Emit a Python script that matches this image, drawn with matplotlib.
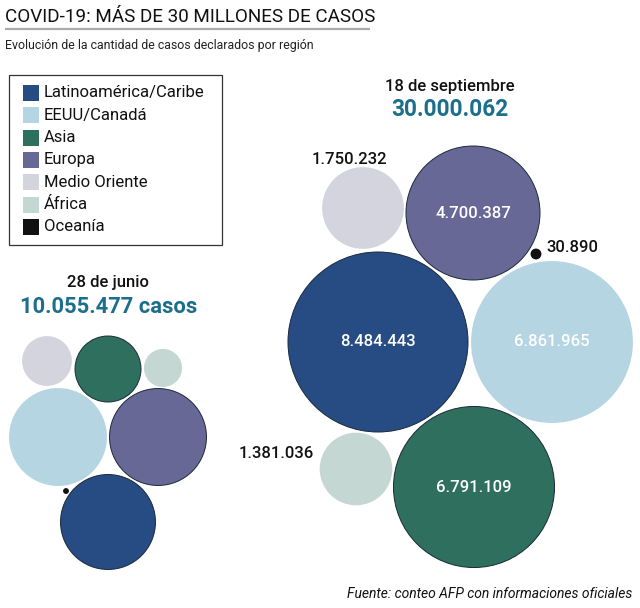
import matplotlib
matplotlib.use("Agg")
import numpy as np
import matplotlib.pyplot as plt
from matplotlib.patches import Circle, Rectangle

# Data (cases, millions)
regions = ["Latinoamérica/Caribe", "EEUU/Canadá", "Asia", "Europa",
           "Medio Oriente", "África", "Oceanía"]
colors = ["#274c84", "#b6d5e3", "#2f6f5d", "#686897",
          "#d4d4df", "#c4d7d2", "#111111"]
edge_dark = [True, False, True, True, False, False, False]

june_cases = [2.36, 2.51, 1.14, 2.46, 0.65, 0.38, 0.009]
sept_cases = [8.484443, 6.861965, 6.791109, 4.700387, 1.750232, 1.381036, 0.030890]
sept_labels = ["8.484.443", "6.861.965", "6.791.109", "4.700.387",
               "1.750.232", "1.381.036", "30.890"]

june_total = "10.055.477 casos"
sept_total = "30.000.062"

# Layout (pixel positions of bubble centres)
june_xy = [(108, 522), (58, 437), (108, 369), (158, 437), (47, 361), (163, 368), (66, 491)]
sept_xy = [(378, 342), (552, 342), (474, 487), (473, 213), (363, 208), (356, 469), (536, 254)]

K = 30.9  # px per sqrt(million)

W, H = 640, 608
fig = plt.figure(figsize=(W / 100, H / 100), dpi=100)
ax = fig.add_axes([0, 0, 1, 1])
ax.set_xlim(0, W)
ax.set_ylim(H, 0)
ax.set_aspect("equal")
ax.axis("off")

sans = ["Roboto", "DejaVu Sans"]

# Title
ax.text(5, 17, "COVID-19: MÁS DE 30 MILLONES DE CASOS", fontsize=13.6,
        family=sans, va="center", ha="left", color="#111111")
ax.plot([5, 370], [29, 29], color="#aaaaaa", lw=1.6, solid_capstyle="butt")
ax.text(5, 45, "Evolución de la cantidad de casos declarados por región",
        fontsize=8.9, family=sans, va="center", ha="left", color="#222222")

# Legend
ax.add_patch(Rectangle((9, 75), 213, 170, fill=False, ec="#333333", lw=0.9))
for i, (name, c) in enumerate(zip(regions, colors)):
    y = 93 + i * 22.3
    ax.add_patch(Rectangle((23, y - 8), 16, 16, fc=c, ec="none"))
    ax.text(44, y, name, fontsize=12, family=sans, va="center", ha="left",
            color="#111111")

# Bubbles
def draw(vals, xys):
    for v, (x, y), c, d in zip(vals, xys, colors, edge_dark):
        ax.add_patch(Circle((x, y), K * np.sqrt(v), fc=c,
                            ec="#1a2a3a" if d else "none", lw=0.7))

draw(june_cases, june_xy)
draw(sept_cases, sept_xy)

# Headers
teal = "#1c6f8c"
ax.text(108, 282, "28 de junio", fontsize=12, family=sans, fontweight="medium",
        ha="center", va="center", color="#111111")
ax.text(109, 307, june_total, fontsize=15.8, family=sans, fontweight="bold",
        ha="center", va="center", color=teal)
ax.text(450, 86, "18 de septiembre", fontsize=12, family=sans, fontweight="medium",
        ha="center", va="center", color="#111111")
ax.text(450, 109, sept_total, fontsize=16.3, family=sans, fontweight="bold",
        ha="center", va="center", color=teal)

# Value labels
lab = dict(fontsize=12, family=sans, fontweight="medium", va="center")
for i in range(4):
    x, y = sept_xy[i]
    ax.text(x, y, sept_labels[i], ha="center", color="white", **lab)
ax.text(349, 159, sept_labels[4], ha="center", color="#111111", **lab)
ax.text(314, 453, sept_labels[5], ha="right", color="#111111", **lab)
ax.text(546, 248, sept_labels[6], ha="left", color="#111111", **lab)

# Source
ax.text(632, 594, "Fuente: conteo AFP con informaciones oficiales", fontsize=10,
        family=sans, style="italic", ha="right", va="center", color="#111111")

fig.savefig("out.png", dpi=100, facecolor="white")
